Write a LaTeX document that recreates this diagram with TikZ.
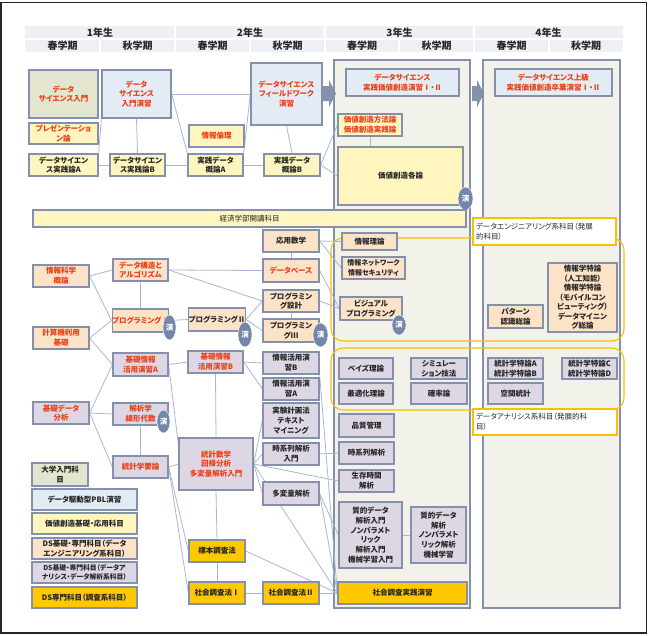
\documentclass[tikz,border=0pt]{standalone}
\usepackage{fontspec}
\setmainfont[RawFeature=+palt]{Noto Sans CJK JP}
\usetikzlibrary{calc,backgrounds,shapes.geometric}
\pgfdeclarelayer{edges}
\pgfsetlayers{background,edges,main}
\definecolor{bord}{HTML}{8591AC}
\definecolor{edgec}{HTML}{A9B8D2}
\definecolor{hdr}{HTML}{EEF0F4}
\definecolor{fgreen}{HTML}{E4E5CF}
\definecolor{fblue}{HTML}{E3EBF4}
\definecolor{fyel}{HTML}{FFF5BE}
\definecolor{fpeach}{HTML}{FCE3C7}
\definecolor{flav}{HTML}{DCD7E3}
\definecolor{forange}{HTML}{FFC800}
\definecolor{tred}{HTML}{EA3F18}
\definecolor{enc}{HTML}{7287A9}
\definecolor{panelc}{HTML}{F2F2EA}
\definecolor{gold}{HTML}{F7C000}
\definecolor{txt}{HTML}{262626}
\tikzset{
  cbox/.style={draw=bord,line width=1.3pt,inner sep=0pt,align=center,text=txt,font=\fontsize{7.5}{9.8}\selectfont\bfseries},
  fg/.style={fill=fgreen}, fb/.style={fill=fblue}, fy/.style={fill=fyel},
  fp/.style={fill=fpeach}, fl/.style={fill=flav}, fo/.style={fill=forange},
  rt/.style={text=tred},
  enshape/.style={ellipse,fill=enc,draw=white,line width=0.4pt,inner sep=0pt,text=white,font=\fontsize{7.5}{9}\selectfont\bfseries},
  edge/.style={draw=edgec,line width=0.8pt},
  hdrtxt/.style={font=\fontsize{10}{11}\selectfont\bfseries,text=txt,inner sep=0pt},
  lbl/.style={draw=gold,line width=1.8pt,fill=white,inner xsep=3pt,inner ysep=0pt,align=left,text=txt,font=\fontsize{7.5}{9.8}\selectfont}
}
\newcommand\bx[7][]{\node[cbox,#1,minimum width={(#5-#3)*1pt},minimum height={(#6-#4)*1pt}] (#2) at ({(#3+#5)/2},{(#4+#6)/2}) {#7};}
\newcommand\en[5]{\node[enshape,minimum width=#4pt,minimum height=#5pt] (#1) at (#2,#3) {演};}
\begin{document}
\begin{tikzpicture}[x=1pt,y=-1pt]
\useasboundingbox (0,0) rectangle (650,635);
\begin{pgfonlayer}{background}
\fill[white] (0,0) rectangle (650,635);
\draw[line width=1.2pt,black!85] (1,2.5) rectangle (646.5,633);
% header
\fill[hdr] (25,26) rectangle (623,52);
\draw[white,line width=1.2pt] (25,39)--(623,39) (175,26)--(175,52) (325,26)--(325,52) (474,26)--(474,52)
  (100,39)--(100,52) (250,39)--(250,52) (399,39)--(399,52) (549,39)--(549,52);
% panels
\filldraw[fill=panelc,draw=bord,line width=1.2pt] (334,60) rectangle (470,608);
\filldraw[fill=panelc,draw=bord,line width=1.2pt] (483,60) rectangle (620,608);
% block arrows
\fill[bord] (322,86)--(329,86)--(329,80)--(336,93.5)--(329,107)--(329,101)--(322,101)--cycle;
\fill[bord] (472,86)--(477,86)--(477,80)--(484,93.5)--(477,107)--(477,101)--(472,101)--cycle;
% groups
\draw[gold,line width=1.1pt,rounded corners=12pt] (331,238) rectangle (624,341);
\draw[gold,line width=1.1pt,rounded corners=12pt] (331,348) rectangle (624,410);
\end{pgfonlayer}
% header texts
\node[hdrtxt] (y1) at (100,32.5) {1年生};
\node[hdrtxt] (y2) at (250,32.5) {2年生};
\node[hdrtxt] (y3) at (399.5,32.5) {3年生};
\node[hdrtxt] (y4) at (548.5,32.5) {4年生};
\node[hdrtxt] (s1a) at (62.5,45.5) {春学期};
\node[hdrtxt] (s1b) at (137.5,45.5) {秋学期};
\node[hdrtxt] (s2a) at (212.5,45.5) {春学期};
\node[hdrtxt] (s2b) at (287.5,45.5) {秋学期};
\node[hdrtxt] (s3a) at (362,45.5) {春学期};
\node[hdrtxt] (s3b) at (436.5,45.5) {秋学期};
\node[hdrtxt] (s4a) at (511.5,45.5) {春学期};
\node[hdrtxt] (s4b) at (586,45.5) {秋学期};
% top area
\bx[fg,rt]{dsi}{29}{70}{98}{118}{データ\\サイエンス入門}
\bx[fb,rt]{dsn}{102}{70}{171}{118}{データ\\サイエンス\\入門演習}
\bx[fb,rt]{dsf}{251}{63}{322}{125}{データサイエンス\\フィールドワーク\\演習}
\bx[fy,rt]{pre}{29}{123}{98}{144}{プレゼンテーショ\\ン論}
\bx[fy,rt]{jrr}{189}{125}{244}{147}{情報倫理}
\bx[fy]{dsja}{29}{154}{98}{176}{データサイエン\\ス実践論A}
\bx[fy]{dsjb}{110}{154}{165}{176}{データサイエン\\ス実践論B}
\bx[fy]{jda}{188}{154}{243}{176}{実践データ\\概論A}
\bx[fy]{jdb}{264}{154}{320}{176}{実践データ\\概論B}
\bx[fb,rt]{dsj3}{346}{69}{459}{96}{データサイエンス\\実践価値創造演習Ⅰ・Ⅱ}
\bx[fb,rt]{dsj4}{495}{69}{612}{96}{データサイエンス上級\\実践価値創造卒業演習Ⅰ・Ⅱ}
\bx[fy,rt]{kmh}{338}{114}{402}{136}{価値創造方法論\\価値創造実践論}
\bx[fy]{kkr}{338}{147}{463}{205}{価値創造各論}
\en{en0}{465.5}{198.5}{15}{23}
\bx[fy,font=\fontsize{7.5}{9.8}\selectfont]{kei}{33}{210}{466}{227}{経済学部開講科目}
% engineering
\bx[fp,rt]{jkg}{33}{265}{89}{287}{情報科学\\概論}
\bx[fp,rt]{dsa}{113}{259}{168}{281}{データ構造と\\アルゴリズム}
\bx[fp]{om}{263}{230}{319}{252}{応用数学}
\bx[fp,rt]{db}{263}{259}{319}{282}{データベース}
\bx[fp]{pd}{263}{290}{319}{312}{プログラミン\\グ設計}
\bx[fp,rt]{p1}{113}{309}{168}{332}{プログラミングⅠ}
\bx[fp]{p2}{189}{308}{245}{331}{プログラミングⅡ}
\bx[fp]{p3}{263}{319}{319}{342}{プログラミン\\グⅢ}
\bx[fp,rt]{kkk}{33}{327}{89}{349}{計算機利用\\基礎}
\en{en1}{169.5}{327.5}{13}{25}
\en{en2}{245}{334.5}{14}{25}
\en{en3}{320.5}{335}{15}{24}
\bx[fp]{jr}{342}{233}{397}{250}{情報理論}
\bx[fp,font=\fontsize{7}{9.5}\selectfont\bfseries]{jnw}{342}{257}{405}{279}{情報ネットワーク\\情報セキュリティ}
\bx[fp]{vp}{340}{297}{402}{320}{ビジュアル\\プログラミング}
\en{en4}{399}{325}{14}{20}
\bx[fp]{pat}{488}{305}{543}{328}{パターン\\認識総論}
\bx[fp,font=\fontsize{7.5}{9.5}\selectfont\bfseries]{jtr}{548}{263}{617}{332}{情報学特論\\（人工知能）\\情報学特論\\（モバイルコン\\ピューティング）\\データマイニン\\グ総論}
\node[lbl,minimum width=143pt,minimum height=27pt,text width=137pt] (delbl) at (544.5,231.5) {データエンジニアリング系科目（発展\\的科目）};
% analysis
\bx[fl,rt]{kja}{113}{353}{168}{376}{基礎情報\\活用演習A}
\bx[fl,rt]{kjb}{188}{351}{243}{373}{基礎情報\\活用演習B}
\bx[fl]{jkb}{263}{352}{319}{374}{情報活用演\\習B}
\bx[fl]{jka}{263}{378}{319}{400}{情報活用演\\習A}
\bx[fl]{jk}{263}{403}{319}{438}{実験計画法\\テキスト\\マイニング}
\bx[fl]{jki}{263}{443}{319}{465}{時系列解析\\入門}
\bx[fl,rt]{kda}{33}{402}{89}{424}{基礎データ\\分析}
\bx[fl,rt]{kk}{113}{403}{168}{425}{解析学\\線形代数}
\en{en5}{163.5}{421.5}{13}{23}
\bx[fl,rt]{tky}{113}{456}{168}{478}{統計学要論}
\bx[fl,rt]{ts}{179}{438}{253}{490}{統計数学\\回帰分析\\多変量解析入門}
\bx[fl]{tv}{263}{482}{319}{505}{多変量解析}
\bx[fl]{bay}{339}{358}{393}{379}{ベイズ理論}
\bx[fl]{sim}{411}{358}{467}{379}{シミュレー\\ション技法}
\bx[fl]{saj}{339}{383}{393}{404}{最適化理論}
\bx[fl]{kak}{411}{383}{467}{404}{確率論}
\bx[fl]{tab}{488}{358}{543}{379}{統計学特論A\\統計学特論B}
\bx[fl]{tcd}{562}{358}{617}{379}{統計学特論C\\統計学特論D}
\bx[fl]{kut}{488}{383}{543}{404}{空間統計}
\node[lbl,minimum width=144pt,minimum height=26pt,text width=138pt] (dalbl) at (545,422) {データアナリシス系科目（発展的科\\目）};
\bx[fl]{hin}{339}{414}{394}{437}{品質管理}
\bx[fl]{jk3}{339}{442}{394}{464}{時系列解析}
\bx[fl]{sj}{339}{470}{394}{492}{生存時間\\解析}
\bx[fl]{sdn}{339}{502}{402}{568}{質的データ\\解析入門\\ノンパラメト\\リック\\解析入門\\機械学習入門}
\bx[fl]{sd}{411}{507}{466}{563}{質的データ\\解析\\ノンパラメト\\リック解析\\機械学習}
% survey
\bx[fo]{hc}{189}{540}{245}{562}{標本調査法}
\bx[fo]{sa1}{189}{582}{245}{604}{社会調査法Ⅰ}
\bx[fo]{sa2}{263}{582}{319}{604}{社会調査法Ⅱ}
\bx[fo]{sjp}{338}{582}{467}{604}{社会調査実践演習}
% legend
\bx[fg]{lg1}{32}{463}{88}{486}{大学入門科\\目}
\bx[fb]{lg2}{32}{489}{137}{510}{データ駆動型PBL演習}
\bx[fy]{lg3}{32}{513}{137}{534}{価値創造基礎・応用科目}
\bx[fp]{lg4}{32}{538}{137}{559}{DS基礎・専門科目（データ\\エンジニアリング系科目）}
\bx[fl,font=\fontsize{6.8}{9.3}\selectfont\bfseries]{lg5}{32}{562}{137}{583}{DS基礎・専門科目（データア\\ナリシス・データ解析系科目）}
\bx[fo]{lg6}{32}{587}{137}{608}{DS専門科目（調査系科目）}
% connectors
\begin{pgfonlayer}{edges}
\draw[edge] (dsn.east) -- (dsf.west);
\draw[edge] (dsn.south) -- (dsjb.north);
\draw[edge] (dsn.east) -- (jda.north west);
\draw[edge] (dsf.west) -- (jda.north east);
\draw[edge] (dsf.south) -- (jdb.north);
\draw[edge] (dsja.east) -- (dsjb.west);
\draw[edge] (dsjb.east) -- (jda.west);
\draw[edge] (jda.east) -- (jdb.west);
\draw[edge] (dsja.north east) -- (dsn.south west);
\draw[edge] (jdb.east) -- (kmh.west);
\draw[edge] (jdb.east) -- (kkr.west);
\draw[edge] (kmh.south) -- (kmh.south |- kkr.north);
\draw[edge] (jkg.east) -- (dsa.west);
\draw[edge] (jkg.east) -- (p1.west);
\draw[edge] (kkk.east) -- (p1.west);
\draw[edge] (kkk.east) -- (kja.west);
\draw[edge] (dsa.south) -- (p1.north);
\draw[edge] (dsa.east) -- (db.west);
\draw[edge] (dsa.east) -- (pd.west);
\draw[edge] (p1.east) -- (p2.west);
\draw[edge] (p2.east) -- (pd.west);
\draw[edge] (p2.east) -- (p3.west);
\draw[edge] (om.south) -- (db.north);
\draw[edge] (pd.south) -- (p3.north);
\draw[edge] (om.east) -- (jr.west);
\draw[edge] (om.east) -- (jnw.west);
\draw[edge] (db.east) -- (vp.west);
\draw[edge] (pd.east) -- (vp.west);
\draw[edge] (kda.east) -- (kja.west);
\draw[edge] (kda.east) -- (kk.west);
\draw[edge] (kda.east) -- (tky.west);
\draw[edge] (kk.south) -- (tky.north);
\draw[edge] (kja.east) -- (kjb.west);
\draw[edge] (kja.east) -- ([yshift=-7pt]ts.north west);
\draw[edge] (kjb.south) -- (ts.north);
\draw[edge] (kjb.east) -- (jkb.west);
\draw[edge] (kjb.east) -- (jka.west);
\draw[edge] (jkb.south east) -- (sjp.west);
\draw[edge] (ts.east) -- (jk.west);
\draw[edge] (ts.east) -- (jki.west);
\draw[edge] (ts.east) -- (tv.west);
\draw[edge] (ts.east) -- (sj.west);
\draw[edge] (ts.east) -- (sjp.west);
\draw[edge] (jki.east) -- (jk3.west);
\draw[edge] (ts.south) -- (hc.north);
\draw[edge] (hc.south) -- (sa1.north);
\draw[edge] (sa1.east) -- (sa2.west);
\draw[edge] (sa2.east) -- (sjp.west);
\draw[edge] (hc.east) -- (sjp.west);
\draw[edge] (tky.east) -- (ts.west);
\draw[edge] (tky.east) -- (hc.west);
\draw[edge] (tky.east) -- (sa1.west);
\draw[edge] (tv.east) -- (sjp.west);
\draw[edge] (tv.east) -- (sdn.west);
\draw[edge] (sdn.east) -- (sd.west);
\end{pgfonlayer}
\end{tikzpicture}
\end{document}
